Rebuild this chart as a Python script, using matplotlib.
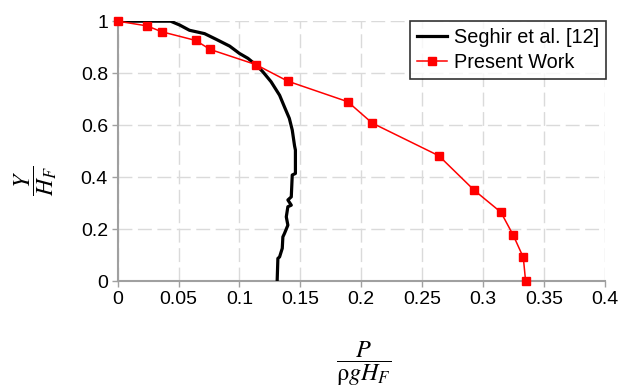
import matplotlib
matplotlib.use("Agg")
import matplotlib.pyplot as plt

plt.rcParams['font.family'] = ['Liberation Sans', 'DejaVu Sans']
plt.rcParams['mathtext.fontset'] = 'stix'

# Seghir et al. [12]
seghir_x = [0.0, 0.0435, 0.051, 0.059, 0.0714, 0.081, 0.092, 0.100, 0.107, 0.1138,
            0.1193, 0.126, 0.133, 0.137, 0.141, 0.1434, 0.1453, 0.146, 0.146, 0.1434,
            0.1426, 0.1398, 0.1426, 0.1398, 0.1385, 0.1398, 0.137, 0.1357, 0.1352,
            0.133, 0.1316, 0.131]
seghir_y = [1.0, 1.0, 0.985, 0.965, 0.952, 0.930, 0.904, 0.876, 0.857, 0.831,
            0.805, 0.767, 0.715, 0.670, 0.626, 0.581, 0.520, 0.504, 0.414, 0.408,
            0.324, 0.312, 0.292, 0.286, 0.247, 0.215, 0.183, 0.170, 0.126,
            0.093, 0.087, 0.0]

# Present Work
present_x = [0.0, 0.024, 0.0364, 0.064, 0.0761, 0.1135, 0.1398, 0.189, 0.209,
             0.2638, 0.2929, 0.3147, 0.3249, 0.3331, 0.335]
present_y = [1.0, 0.982, 0.959, 0.926, 0.891, 0.833, 0.769, 0.690, 0.608,
             0.482, 0.349, 0.265, 0.176, 0.091, 0.0]

x_ticks = [0, 0.05, 0.1, 0.15, 0.2, 0.25, 0.3, 0.35, 0.4]
x_tick_labels = ['0', '0.05', '0.1', '0.15', '0.2', '0.25', '0.3', '0.35', '0.4']
y_ticks = [0, 0.2, 0.4, 0.6, 0.8, 1.0]
y_tick_labels = ['0', '0.2', '0.4', '0.6', '0.8', '1']

fig = plt.figure(figsize=(6.19, 3.92), dpi=100)
ax = fig.add_axes([0.19, 0.283, 0.787, 0.663])

ax.plot(seghir_x, seghir_y, color='black', lw=2.3, label='Seghir et al. [12]', zorder=3)
ax.plot(present_x, present_y, color='#ff0000', lw=1.1, marker='s', markersize=5.8,
        label='Present Work', zorder=4, clip_on=False)

ax.set_xlim(0, 0.4)
ax.set_ylim(0, 1.0)
ax.set_xticks(x_ticks)
ax.set_xticklabels(x_tick_labels)
ax.set_yticks(y_ticks)
ax.set_yticklabels(y_tick_labels)

ax.grid(True, color='#dadada', lw=1.0, linestyle=(0, (10, 4)))
ax.set_axisbelow(True)
for s in ['top', 'right']:
    ax.spines[s].set_visible(False)
for s in ['left', 'bottom']:
    ax.spines[s].set_color('#a0a0a0')
    ax.spines[s].set_linewidth(1.5)
ax.tick_params(axis='both', colors='#a0a0a0', labelcolor='black', labelsize=14,
               length=4, width=1.0, direction='out', pad=3)

leg = ax.legend(loc='upper right', bbox_to_anchor=(1.003, 1.0), fontsize=14.3,
                frameon=True, fancybox=False, borderpad=0.35, labelspacing=0.3,
                handlelength=1.5, handletextpad=0.35, borderaxespad=0.0)
leg.get_frame().set_edgecolor('black')
leg.get_frame().set_linewidth(1.2)

fig.text(0.058, 0.54, r'$\dfrac{Y}{H_F}$', rotation=90, fontsize=17,
         ha='center', va='center')
fig.text(0.588, 0.072, r'$\dfrac{P}{\mathrm{\rho} g H_F}$', fontsize=17.5,
         ha='center', va='center')

fig.savefig('out.png', dpi=100)
